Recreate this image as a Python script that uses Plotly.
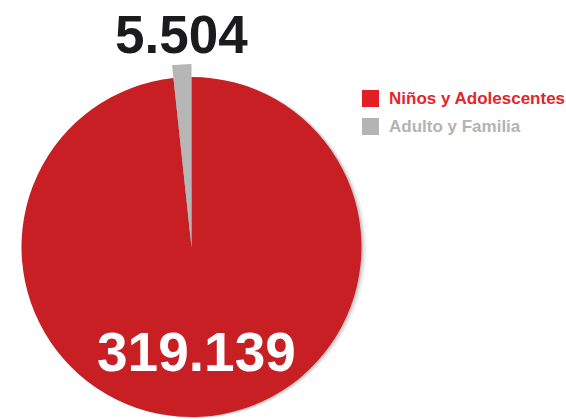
import plotly.graph_objects as go

# ---- data ----
categories = ["Niños y Adolescentes", "Adulto y Familia"]
values = [319139, 5504]

# ---- styles ----
slice_colors = ["#c71f24", "#b6b6b6"]
legend_square_colors = ["#e31e25", "#b4b4b4"]
legend_text_colors = ["#e0262c", "#b3b3b3"]
W, H = 566, 419
FONT = "Liberation Sans, Arial, sans-serif"


def fmt(v):
    return f"{v:,}".replace(",", ".")


total = sum(values)

fig = go.Figure()

# extended grey wedge behind the pie (polar bar using the same angular convention)
fig.add_trace(go.Barpolar(
    theta=[360 * (values[0] + values[1] / 2) / total],
    width=[360 * values[1] / total],
    r=[1],
    marker=dict(color=slice_colors[1], line=dict(width=0)),
    showlegend=False,
    hoverinfo="skip",
    subplot="polar",
))

# soft shadow layers
for dx, dy, a in [(5, 1, 0.05), (3, 1, 0.08), (1.5, 0.5, 0.10)]:
    fig.add_trace(go.Pie(
        labels=categories, values=values, sort=False, direction="clockwise", rotation=0,
        marker=dict(colors=[f"rgba(0,0,0,{a})"] * 2, line=dict(width=0)),
        textinfo="none", showlegend=False, hoverinfo="skip",
        domain=dict(x=[(21.5 + dx) / W, (361.5 + dx) / W], y=[(2 - dy) / H, (342 - dy) / H]),
    ))

fig.add_trace(go.Pie(
    labels=categories,
    values=values,
    sort=False,
    direction="clockwise",
    rotation=0,
    marker=dict(colors=slice_colors, line=dict(width=0)),
    textinfo="none",
    showlegend=False,
    domain=dict(x=[21.5 / W, 361.5 / W], y=[2 / H, 342 / H]),
))

cx, cyb = 191.5, 172  # pie centre (px from left / from bottom)
R_ext = 183
fig.update_layout(
    polar=dict(
        domain=dict(x=[(cx - 40) / W, (cx + 40) / W], y=[cyb / H, (cyb + R_ext) / H]),
        sector=[80, 100],
        hole=0,
        bgcolor="rgba(0,0,0,0)",
        radialaxis=dict(range=[0, 1], visible=False, showgrid=False),
        angularaxis=dict(visible=False, rotation=90, direction="clockwise", showgrid=False),
    )
)

annotations = [
    dict(text=f"<b>{fmt(values[1])}</b>", x=181.5 / W, y=1 - 35 / H, xref="paper", yref="paper",
         xanchor="center", yanchor="middle", showarrow=False,
         font=dict(family=FONT, size=53, color="#1b1b1d")),
    dict(text=f"<b>{fmt(values[0])}</b>", x=196.5 / W, y=1 - 352 / H, xref="paper", yref="paper",
         xanchor="center", yanchor="middle", showarrow=False,
         font=dict(family=FONT, size=55, color="#ffffff")),
]
shapes = []
leg_x0, leg_y0, step, sq = 362, 98.5, 28, 17
for i, name in enumerate(categories):
    yc = leg_y0 + i * step
    shapes.append(dict(type="rect", xref="paper", yref="paper",
                       x0=leg_x0 / W, x1=(leg_x0 + sq) / W,
                       y0=1 - (yc + sq / 2) / H, y1=1 - (yc - sq / 2) / H,
                       fillcolor=legend_square_colors[i], line=dict(width=0)))
    annotations.append(dict(text=f"<b>{name}</b>", x=(leg_x0 + sq + 8) / W, y=1 - yc / H,
                            xref="paper", yref="paper", xanchor="left", yanchor="middle",
                            showarrow=False,
                            font=dict(family=FONT, size=17, color=legend_text_colors[i])))

fig.update_layout(
    width=W, height=H,
    margin=dict(l=0, r=0, t=0, b=0),
    paper_bgcolor="white", plot_bgcolor="white",
    annotations=annotations, shapes=shapes,
    showlegend=False,
)

fig.write_html("out.html")
